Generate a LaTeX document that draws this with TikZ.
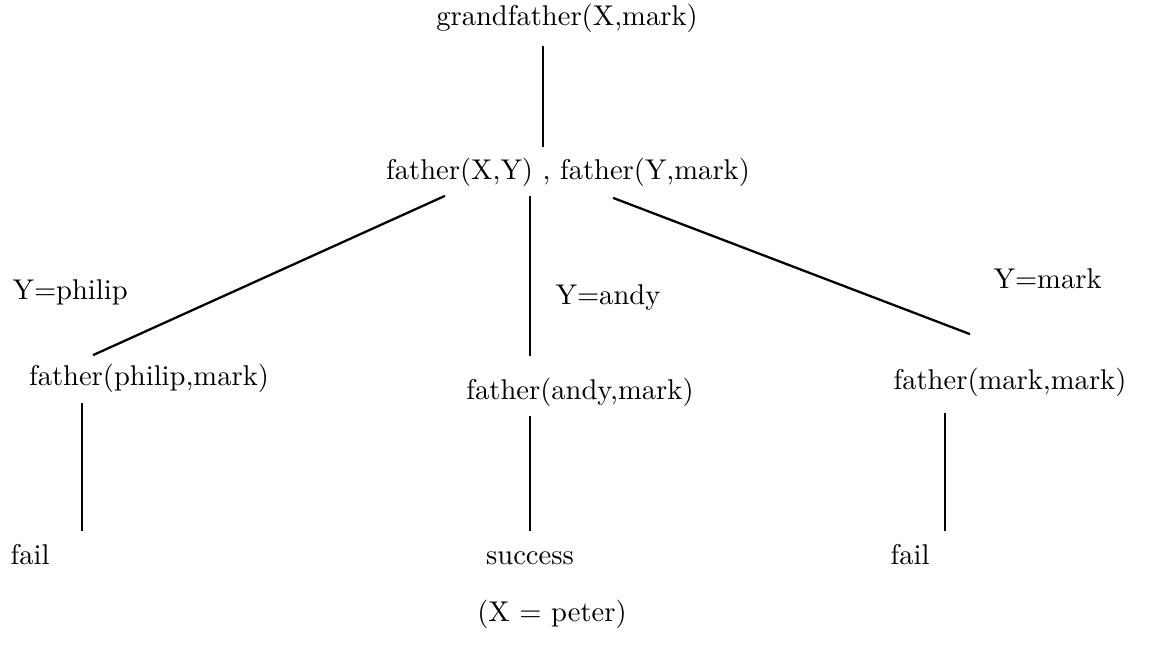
\documentclass[tikz,border=0pt]{standalone}
\usetikzlibrary{calc}

\begin{document}
\begin{tikzpicture}[x=0.35pt, y=-0.35pt,
    goal/.style={inner sep=0pt, text height=7.5pt, text depth=2.5pt},
    branch/.style={line width=0.8pt}]
  \useasboundingbox (0,0) rectangle (1152,645);

  % Goals
  \node[goal] (gf) at (567,18) {grandfather(X,mark)};
  \node[goal] (xy) at (568,172) {father(X,Y) , father(Y,mark)};
  \node[goal] (phil) at (149,378) {father(philip,mark)};
  \node[goal] (andy) at (580,392) {father(andy,mark)};
  \node[goal] (mm) at (1010,382) {father(mark,mark)};

  % Outcomes
  \node[goal] (failA) at (30,557) {fail};
  \node[goal] (succ) at (530,557) {success};
  \node[goal] (failB) at (910,557) {fail};
  \node[goal] (ans) at (552,614) {(X = peter)};

  % Bindings
  \node[goal, anchor=west] (yphil) at (12,292) {Y=philip};
  \node[goal, anchor=west] (yandy) at (555,297) {Y=andy};
  \node[goal, anchor=west] (ymark) at (993,281) {Y=mark};

  % Branches
  \draw[branch] ($(gf.south)+(-24,13)$) -- ($(xy.north)+(-25,-10)$);
  \draw[branch] ($(xy.south)+(-123,9)$) -- ($(phil.north)+(-56,-8)$);
  \draw[branch] ($(xy.south)+(-38,9)$) -- ($(andy.north)+(-50,-21)$);
  \draw[branch] ($(xy.south)+(45,11)$) -- ($(mm.north)+(-40,-33)$);
  \draw[branch] ($(phil.south)+(-67,10)$) -- ($(failA.north)+(52,-11)$);
  \draw[branch] ($(andy.south)+(-50,9)$) -- ($(succ.north)+(0,-11)$);
  \draw[branch] ($(mm.south)+(-65,16)$) -- ($(failB.north)+(35,-11)$);
\end{tikzpicture}
\end{document}
